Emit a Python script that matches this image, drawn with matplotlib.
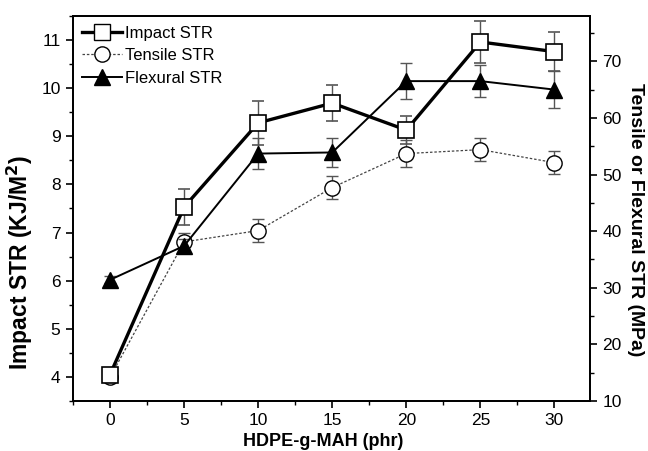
import matplotlib.pyplot as plt
from matplotlib.ticker import MultipleLocator
from matplotlib.lines import Line2D

plt.rcParams['font.family'] = ['Liberation Sans Narrow', 'Liberation Sans', 'DejaVu Sans']

# data
phr = [0, 5, 10, 15, 20, 25, 30]
impact = [4.05, 7.53, 9.28, 9.69, 9.13, 10.96, 10.76]
impact_err = [0.12, 0.37, 0.46, 0.38, 0.3, 0.44, 0.4]
tensile = [14.2, 38.1, 40.1, 47.7, 53.7, 54.4, 52.1]
tensile_err = [0.8, 1.5, 2.0, 2.0, 2.4, 2.0, 2.0]
flexural = [31.4, 37.4, 53.7, 53.9, 66.5, 66.5, 65.0]
flexural_err = [0.6, 1.2, 2.7, 2.6, 3.2, 2.8, 3.2]

fig = plt.figure(figsize=(6.48, 4.51), dpi=100)
ax = fig.add_axes([0.1127, 0.1109, 0.7978, 0.8536])
ax2 = ax.twinx()

ecol = '#555555'
ax2.errorbar(phr, tensile, yerr=tensile_err, color='#444444', ls=(0, (2, 1.5)), lw=0.9,
             marker='o', ms=11, mfc='white', mec='black', mew=1.0,
             ecolor=ecol, elinewidth=1, capsize=4, zorder=2)
ax2.errorbar(phr, flexural, yerr=flexural_err, color='black', ls='-', lw=1.4,
             marker='^', ms=12, mfc='black', mec='black',
             ecolor=ecol, elinewidth=1, capsize=4, zorder=3)
ax.errorbar(phr, impact, yerr=impact_err, color='black', ls='-', lw=2.4,
            marker='s', ms=12, mfc='white', mec='black', mew=1.2,
            ecolor=ecol, elinewidth=1, capsize=4, zorder=4)
ax.set_zorder(ax2.get_zorder() + 1)
ax.patch.set_visible(False)

ax.set_xlim(-2.5, 32.4)
ax.set_ylim(3.5, 11.5)
ax2.set_ylim(10, 78)

ax.xaxis.set_major_locator(MultipleLocator(5))
ax.xaxis.set_minor_locator(MultipleLocator(2.5))
ax.yaxis.set_major_locator(MultipleLocator(1))
ax.yaxis.set_minor_locator(MultipleLocator(0.5))
ax2.yaxis.set_major_locator(MultipleLocator(10))
ax2.yaxis.set_minor_locator(MultipleLocator(5))

for a in (ax, ax2):
    a.tick_params(which='major', direction='out', length=5, width=1.2, labelsize=12.5,
                  colors='black', pad=4)
    a.tick_params(which='minor', direction='out', length=3, width=1.0)
    for s in a.spines.values():
        s.set_linewidth(1.3)
ax.tick_params(axis='y', which='both', right=False)
ax.tick_params(axis='x', which='both', top=False)

ax.set_xlabel('HDPE-g-MAH (phr)', fontsize=13, fontweight='bold',
              family=['Liberation Sans', 'DejaVu Sans'])
ax.xaxis.set_label_coords(0.484, -0.082)
ax.set_ylabel('Impact STR (KJ/M$\\mathbf{^2}$)', fontsize=16.5, fontweight='bold',
              family=['Liberation Sans', 'DejaVu Sans'])
ax.yaxis.set_label_coords(-0.074, 0.36)
ax2.set_ylabel('Tensile or Flexural STR (MPa)', fontsize=14, fontweight='bold',
               rotation=270, family=['Liberation Sans', 'DejaVu Sans'])
ax2.yaxis.set_label_coords(1.104, 0.47)

handles = [
    Line2D([], [], color='black', lw=2.4, marker='s', ms=11, mfc='white', mec='black'),
    Line2D([], [], color='#444444', lw=0.9, ls=(0, (2, 1.5)), marker='o', ms=11, mfc='white', mec='black'),
    Line2D([], [], color='black', lw=1.4, marker='^', ms=11, mfc='black'),
]
ax.legend(handles, ['Impact STR', 'Tensile STR', 'Flexural STR'], loc='upper left',
          bbox_to_anchor=(-0.005, 1.005), frameon=False, fontsize=12, handlelength=2.4,
          handletextpad=0.2, labelspacing=0.45, borderaxespad=0.3)

fig.savefig('out.png', dpi=100)
